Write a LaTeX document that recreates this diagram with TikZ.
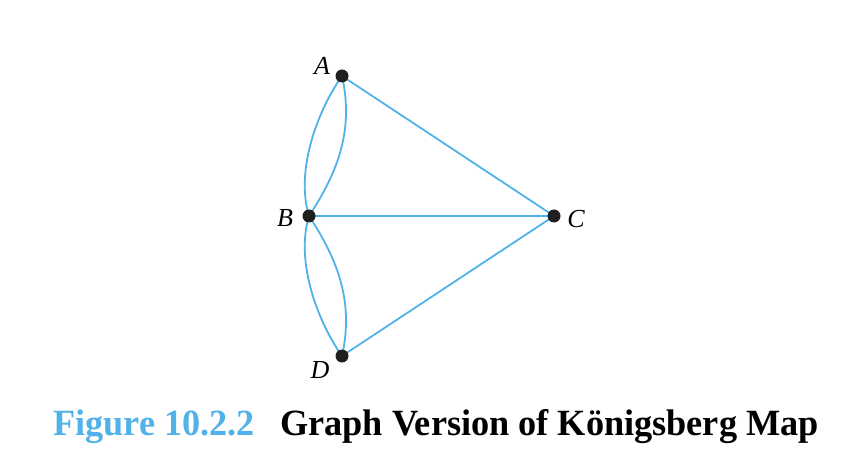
\documentclass[tikz,border=0pt]{standalone}
\usepackage{fontspec}
\setmainfont{Liberation Serif}
\newfontfamily\capfont[FakeStretch=0.98]{Liberation Serif}
\definecolor{edgeblue}{RGB}{80,178,232}
\tikzset{vertex/.style={circle, fill=black!88, inner sep=0pt, minimum size=13pt},
  edge/.style={edgeblue, line width=1.8pt},
  lbl/.style={font=\fontsize{26}{26}\selectfont\itshape, inner sep=0pt},
  captext/.style={font=\capfont\bfseries\fontsize{37}{37}\selectfont, inner sep=0pt, anchor=base west}}
\begin{document}
\begin{tikzpicture}[x=1pt, y=-1pt]
      \useasboundingbox (0, 0) rectangle (862, 470);
      \coordinate (A) at (342, 76);
      \coordinate (B) at (309, 216);
      \coordinate (C) at (554, 216);
      \coordinate (D) at (342, 356);
      \draw [edge] (A) .. controls +(-24, 34) and +(-14, -46) .. (B);
      \draw [edge] (A) .. controls +(12, 54) and +(29, -44) .. (B);
      \draw [edge] (D) .. controls +(-24, -34) and +(-14, 46) .. (B);
      \draw [edge] (D) .. controls +(12, -54) and +(29, 44) .. (B);
      \draw [edge] (A) -- (C) -- (D);
      \draw [edge] (B) -- (C);
      \foreach \v in {A, B, C, D} \node [vertex] at (\v) {};
      \node [lbl] (labA) at (322, 66) {A};
      \node [lbl] (labB) at (285, 218) {B};
      \node [lbl] (labC) at (576, 219) {C};
      \node [lbl] (labD) at (320, 370) {D};
      \node [captext, text=edgeblue] (fignum) at (53, 435) {Figure 10.2.2};
      \node [captext] (figtitle) at (280, 435) {Graph Version of Königsberg Map};
    \end{tikzpicture}
\end{document}
